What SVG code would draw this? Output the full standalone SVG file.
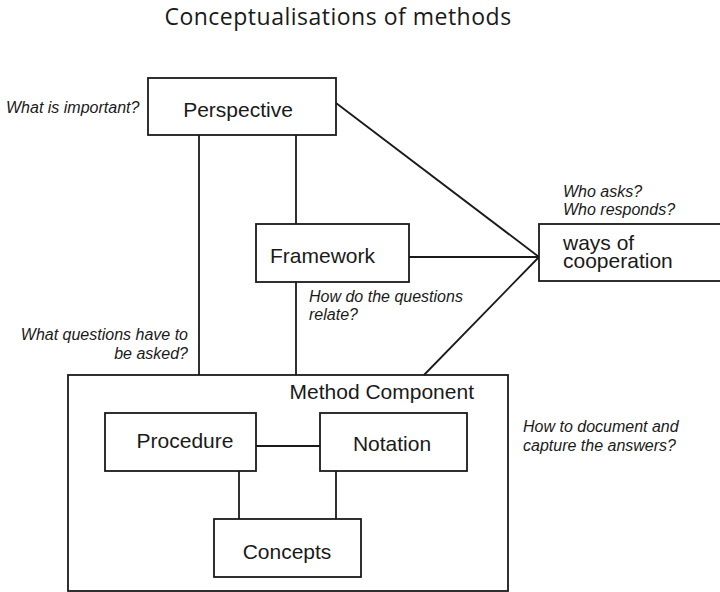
<svg xmlns="http://www.w3.org/2000/svg" width="720" height="592" viewBox="0 0 720 592">
  <style>
    .box { fill: #ffffff; stroke: #1a1a1a; stroke-width: 1.8; }
    .frame { fill: none; stroke: #1a1a1a; stroke-width: 1.8; }
    .link { fill: none; stroke: #1a1a1a; stroke-width: 1.8; }
    .label { font-family: "Liberation Sans", Arial, sans-serif; font-size: 21px; fill: #1a1a1a; }
    .note { font-family: "Liberation Sans", Arial, sans-serif; font-size: 16px; font-style: italic; fill: #1a1a1a; }
    .title { font-family: "Open Sans", "Noto Sans", sans-serif; font-size: 23px; letter-spacing: 0.5px; fill: #1a1a1a; }
  </style>

  <rect width="720" height="592" fill="#ffffff"/>

  <text class="title" x="338" y="25" text-anchor="middle">Conceptualisations of methods</text>

  <g id="method-component">
    <rect class="frame" x="68" y="375" width="440" height="216"/>
    <text class="label" x="474" y="399" text-anchor="end" font-size="20">Method Component</text>
  </g>

  <!-- connectors -->
  <g id="connectors">
    <line class="link" x1="199" y1="135" x2="199" y2="375"/>
    <line class="link" x1="296" y1="135" x2="296" y2="224"/>
    <line class="link" x1="296" y1="282" x2="296" y2="375"/>
    <line class="link" x1="336" y1="103" x2="539" y2="257"/>
    <line class="link" x1="409" y1="257" x2="539" y2="257"/>
    <line class="link" x1="424" y1="375" x2="539" y2="257"/>
    <line class="link" x1="256" y1="446" x2="320" y2="446"/>
    <line class="link" x1="239" y1="471" x2="239" y2="519"/>
    <line class="link" x1="336" y1="471" x2="336" y2="519"/>
  </g>

  <g id="perspective">
    <rect class="box" x="148" y="78" width="188" height="57"/>
    <text class="label" x="238" y="117" text-anchor="middle">Perspective</text>
  </g>

  <g id="framework">
    <rect class="box" x="256" y="224" width="153" height="58"/>
    <text class="label" x="270" y="263">Framework</text>
  </g>

  <g id="ways-of-cooperation">
    <rect class="box" x="539" y="224" width="200" height="57"/>
    <text class="label" x="563" y="250">ways of</text>
    <text class="label" x="563" y="268">cooperation</text>
  </g>

  <g id="procedure">
    <rect class="box" x="105" y="413" width="151" height="58"/>
    <text class="label" x="185" y="448" text-anchor="middle">Procedure</text>
  </g>

  <g id="notation">
    <rect class="box" x="320" y="413" width="147" height="58"/>
    <text class="label" x="392" y="451" text-anchor="middle">Notation</text>
  </g>

  <g id="concepts">
    <rect class="box" x="214" y="519" width="147" height="58"/>
    <text class="label" x="287" y="559" text-anchor="middle">Concepts</text>
  </g>

  <!-- side questions -->
  <g id="notes">
    <text class="note" x="6" y="113">What is important?</text>
    <text class="note" x="563" y="197">Who asks?</text>
    <text class="note" x="563" y="215">Who responds?</text>
    <text class="note" x="309" y="302">How do the questions</text>
    <text class="note" x="309" y="320">relate?</text>
    <text class="note" x="188" y="340" text-anchor="end">What questions have to</text>
    <text class="note" x="188" y="359" text-anchor="end">be asked?</text>
    <text class="note" x="523" y="432">How to document and</text>
    <text class="note" x="523" y="451">capture the answers?</text>
  </g>
</svg>
